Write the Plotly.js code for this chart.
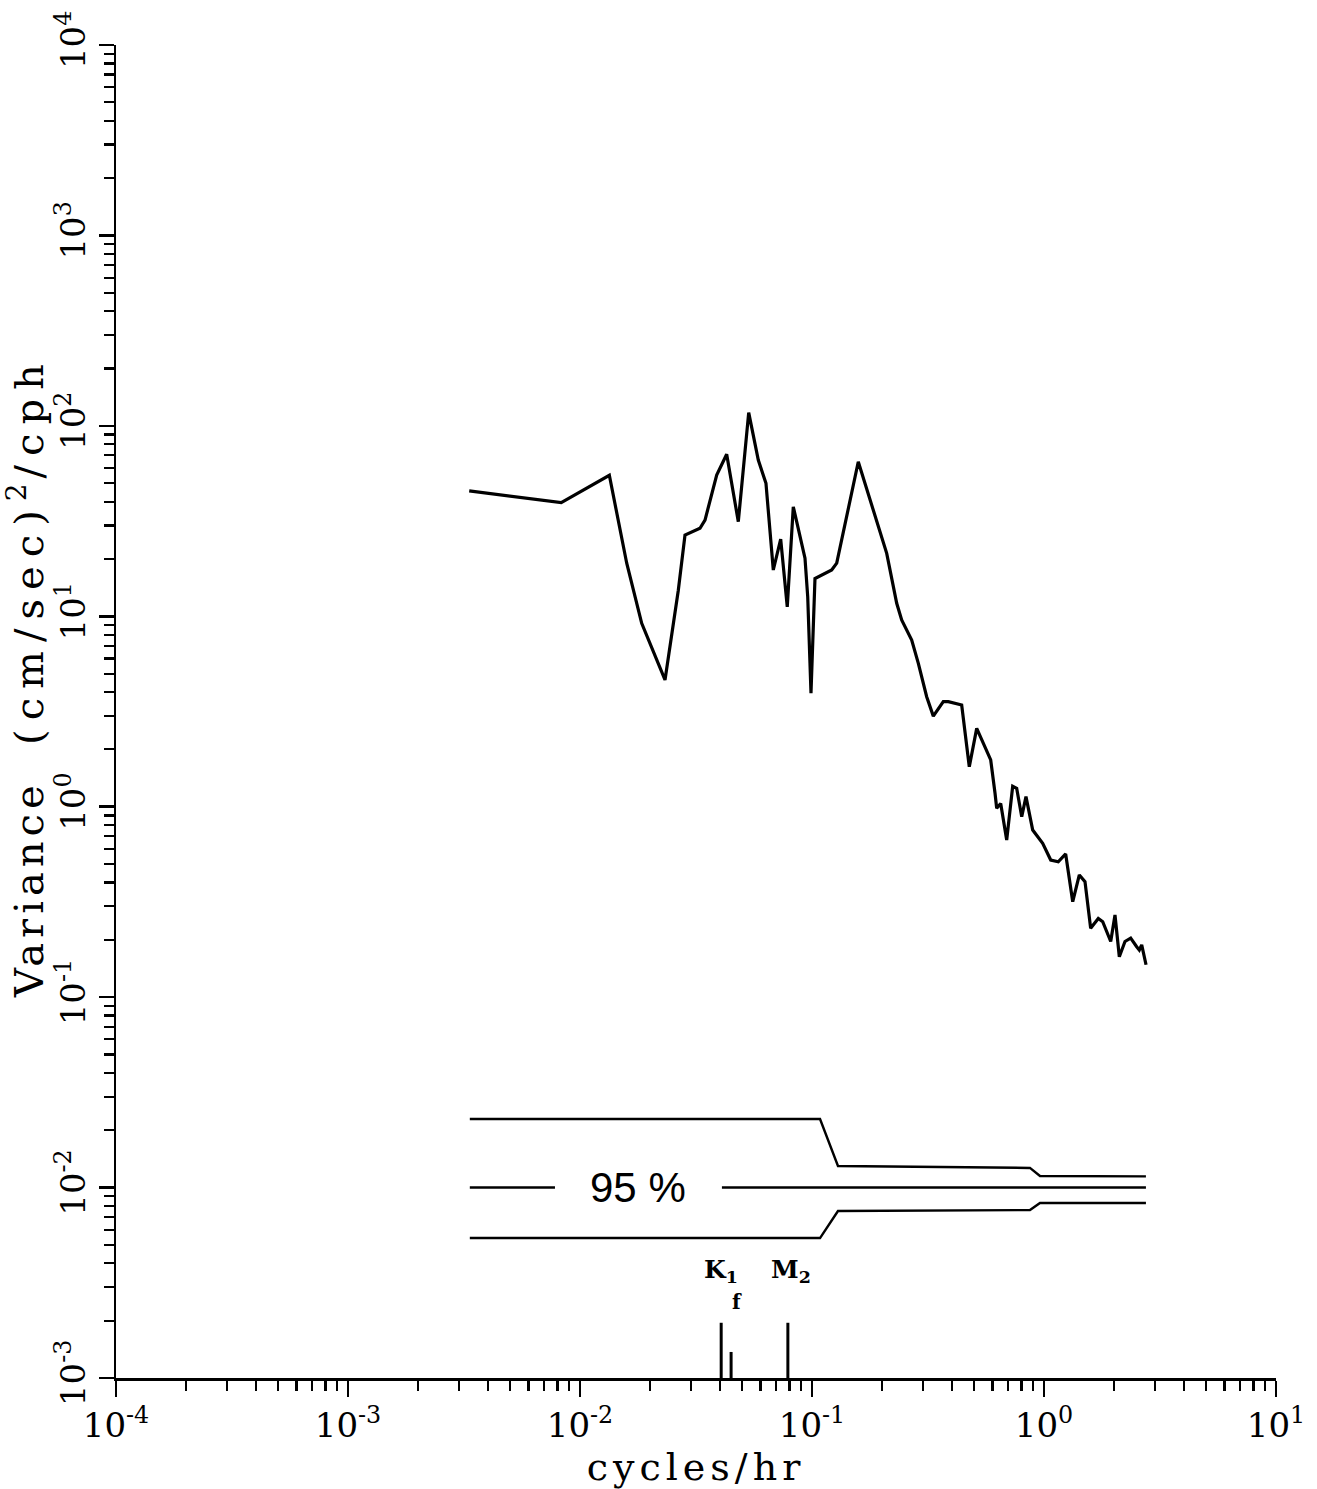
<!DOCTYPE html>
<html>
<head>
<meta charset="utf-8">
<script src="https://cdn.plot.ly/plotly-3.0.1.min.js"></script>
<style>html,body{margin:0;padding:0;background:#fff;}#chart{width:1317px;height:1489px;}</style>
</head>
<body>
<div id="chart"></div>
<script>
// Spectrum (cycles/hr vs variance (cm/sec)^2/cph)
const freq = [0.00333, 0.00467, 0.0083, 0.01338, 0.0159, 0.01845, 0.02325, 0.02653, 0.02835, 0.0329,
  0.03458, 0.03883, 0.04288, 0.04812, 0.05336, 0.05868, 0.06333, 0.0681, 0.07329, 0.07823,
  0.08305, 0.09328, 0.09583, 0.0990, 0.1030, 0.1216, 0.1278, 0.1583, 0.1901, 0.2099,
  0.2318, 0.2435, 0.2690, 0.2873, 0.3121, 0.3333, 0.3681, 0.3869, 0.4418, 0.4764,
  0.5128, 0.5568, 0.5892, 0.6149, 0.6253, 0.6507, 0.6905, 0.7329, 0.7625, 0.8016,
  0.8362, 0.8939, 0.987, 1.069, 1.152, 1.240, 1.330, 1.420, 1.502, 1.589,
  1.714, 1.791, 1.939, 2.023, 2.112, 2.234, 2.364, 2.509, 2.575, 2.637, 2.753];
const variance = [45.6, 43.2, 39.5, 55.0, 19.0, 9.19, 4.63, 13.7, 26.7, 29.0,
  32.0, 55.2, 70.9, 31.4, 117.3, 66.2, 49.9, 17.5, 25.4, 11.2,
  37.6, 20.2, 12.7, 3.94, 15.8, 17.5, 19.0, 64.8, 32.0, 21.4,
  11.7, 9.56, 7.51, 5.66, 3.78, 2.99, 3.56, 3.56, 3.42, 1.62,
  2.58, 2.03, 1.76, 1.18, 0.981, 1.04, 0.668, 1.28, 1.25, 0.886,
  1.13, 0.755, 0.642, 0.525, 0.514, 0.565, 0.317, 0.438, 0.404, 0.230,
  0.259, 0.249, 0.196, 0.270, 0.163, 0.196, 0.204, 0.184, 0.177, 0.188, 0.148];

// 95% confidence band
const bandFreq = [0.00335, 0.1083, 0.1294, 0.870, 0.961, 2.75];
const bandUpper = [0.0229, 0.0229, 0.01298, 0.01268, 0.0115, 0.01145];
const bandLower = [0.00543, 0.00543, 0.00753, 0.00762, 0.0083, 0.0083];
const refLevel = 0.01;
const refLeftFreq = [0.00335, 0.0078];
const refRightFreq = [0.0409, 2.75];
const bandLabel = "95 %";

// Tidal / inertial frequency markers
const tideNames = ["K<sub>1</sub>", "f", "M<sub>2</sub>"];
const tideFreq = [0.0406, 0.0448, 0.0787];
const tideHeight = [0.00195, 0.00137, 0.00195];

const xTickVals = [1e-4, 1e-3, 1e-2, 1e-1, 1, 10];
const xTickText = ["10<sup>-4</sup>", "10<sup>-3</sup>", "10<sup>-2</sup>", "10<sup>-1</sup>", "10<sup>0</sup>", "10<sup>1</sup>"];
const yTickVals = [1e-3, 1e-2, 1e-1, 1, 10, 100, 1000, 10000];
const yTickText = ["10<sup>-3</sup>", "10<sup>-2</sup>", "10<sup>-1</sup>", "10<sup>0</sup>", "10<sup>1</sup>", "10<sup>2</sup>", "10<sup>3</sup>", "10<sup>4</sup>"];

function minorVals(lo, hi) {
  const out = [];
  for (let e = lo; e < hi; e++) for (let m = 2; m <= 9; m++) out.push(m * Math.pow(10, e));
  return out;
}

const black = "#000";
const traces = [
  {x: freq, y: variance, mode: "lines", line: {color: black, width: 3.2}},
  {x: bandFreq, y: bandUpper, mode: "lines", line: {color: black, width: 2.4}},
  {x: bandFreq, y: bandLower, mode: "lines", line: {color: black, width: 2.4}},
  {x: refLeftFreq, y: [refLevel, refLevel], mode: "lines", line: {color: black, width: 2.4}},
  {x: refRightFreq, y: [refLevel, refLevel], mode: "lines", line: {color: black, width: 2.4}}
];
tideFreq.forEach((f, i) => {
  traces.push({x: [f, f], y: [1e-3, tideHeight[i]], mode: "lines", line: {color: black, width: 3}});
});

const font = "DejaVu Serif, Liberation Serif, serif";
const annotations = [
  {x: Math.log10(Math.sqrt(refLeftFreq[1] * refRightFreq[0])), y: Math.log10(refLevel), xref: "x", yref: "y",
   text: bandLabel, showarrow: false, font: {family: "Liberation Sans, Arial, sans-serif", size: 42, color: black}},
  {x: Math.log10(tideFreq[0]), y: Math.log10(tideHeight[0]), xref: "x", yref: "y", yanchor: "bottom", yshift: 34, xshift: 0,
   text: "<b>" + tideNames[0] + "</b>", showarrow: false, font: {family: font, size: 25, color: black}},
  {x: Math.log10(tideFreq[1]), y: Math.log10(tideHeight[1]), xref: "x", yref: "y", yanchor: "bottom", yshift: 36, xshift: 6,
   text: "<b>" + tideNames[1] + "</b>", showarrow: false, font: {family: font, size: 20, color: black}},
  {x: Math.log10(tideFreq[2]), y: Math.log10(tideHeight[2]), xref: "x", yref: "y", yanchor: "bottom", yshift: 34, xshift: 3,
   text: "<b>" + tideNames[2] + "</b>", showarrow: false, font: {family: font, size: 25, color: black}}
];

const yTitle = "&nbsp;&nbsp;&nbsp;&nbsp;Variance&nbsp;&nbsp;<span style='letter-spacing:9px'>(cm/sec)</span><sup>2</sup><span style='letter-spacing:9px'>/cph</span>";

const layout = {
  width: 1317, height: 1489,
  margin: {l: 116, r: 41, t: 45, b: 111},
  paper_bgcolor: "#fff", plot_bgcolor: "#fff",
  showlegend: false,
  font: {family: font, color: black},
  xaxis: {
    type: "log", range: [-4, 1], showgrid: false, zeroline: false,
    showline: true, linecolor: black, linewidth: 2.5,
    tickmode: "array", tickvals: xTickVals, ticktext: xTickText,
    ticks: "outside", ticklen: 16, tickwidth: 2.5, tickcolor: black,
    tickfont: {family: font, size: 34, color: black},
    minor: {tickmode: "array", tickvals: minorVals(-4, 1), ticks: "outside", ticklen: 10, tickwidth: 2.2, tickcolor: black, showgrid: false},
    title: {text: "cycles/hr", font: {family: font, size: 38, color: black}, standoff: 2},
    automargin: false
  },
  yaxis: {
    type: "log", range: [-3, 4], showgrid: false, zeroline: false,
    showline: true, linecolor: black, linewidth: 2.5,
    tickmode: "array", tickvals: yTickVals, ticktext: yTickText, tickangle: -90,
    ticks: "outside", ticklen: 15, tickwidth: 2.5, tickcolor: black,
    tickfont: {family: font, size: 34, color: black},
    minor: {tickmode: "array", tickvals: minorVals(-3, 4), ticks: "outside", ticklen: 10, tickwidth: 2.2, tickcolor: black, showgrid: false},
    title: {text: yTitle, font: {family: font, size: 40, color: black}, standoff: 0},
    automargin: false
  },
  annotations: annotations
};

Plotly.newPlot("chart", traces, layout, {staticPlot: true, displayModeBar: false}).then(() => {
  document.querySelectorAll(".xtitle").forEach(el => { el.style.letterSpacing = "5px"; });
  document.querySelectorAll(".ytitle").forEach(el => { el.style.letterSpacing = "5px"; });
});
</script>
</body>
</html>
